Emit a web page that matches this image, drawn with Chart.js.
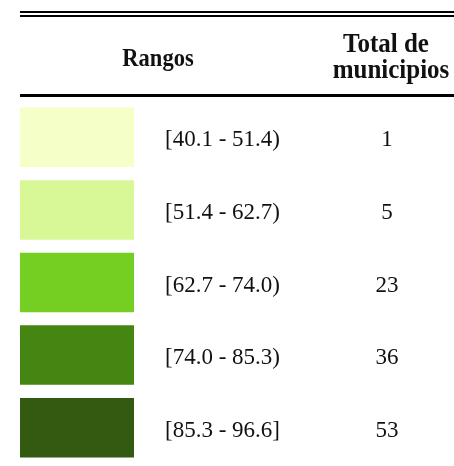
<!DOCTYPE html>
<html>
<head>
<meta charset="utf-8">
<script src="https://cdn.jsdelivr.net/npm/chart.js@4"></script>
<style>
html,body{margin:0;padding:0;background:#fff;}
#wrap{width:454px;height:466px;}
</style>
</head>
<body>
<div id="wrap"><canvas id="c" width="454" height="466"></canvas></div>
<script>
const rangos = ["[40.1 - 51.4)", "[51.4 - 62.7)", "[62.7 - 74.0)", "[74.0 - 85.3)", "[85.3 - 96.6]"];
const totalMunicipios = [1, 5, 23, 36, 53];
const swatchValue = [1, 1, 1, 1, 1];
const colores = ["#F5FFC8", "#D8F796", "#74CF22", "#448611", "#325A10"];
const headerRangos = "Rangos";
const headerTotal = ["Total de", "municipios"];

const FONT = '"Liberation Serif", "Times New Roman", serif';

function stretchedText(ctx, txt, x, y, sy) {
  ctx.save();
  ctx.translate(x, y);
  ctx.scale(1, sy);
  ctx.fillText(txt, 0, 0);
  ctx.restore();
}

const tablePlugin = {
  id: 'tablePlugin',
  afterDraw(chart) {
    const ctx = chart.ctx;
    const y = chart.scales.y;
    ctx.save();
    ctx.fillStyle = '#000';
    // top double rule
    ctx.fillRect(20, 11, 434, 2);
    ctx.fillRect(20, 15, 434, 2);
    // header bottom rule
    ctx.fillRect(20, 94, 434, 3);
    // header text
    ctx.fillStyle = '#111';
    ctx.textAlign = 'center';
    ctx.textBaseline = 'alphabetic';
    ctx.font = 'bold 22.5px ' + FONT;
    stretchedText(ctx, headerRangos, 158, 66, 1.12);
    ctx.font = 'bold 25px ' + FONT;
    stretchedText(ctx, headerTotal[0], 386, 52, 1.08);
    stretchedText(ctx, headerTotal[1], 391, 78, 1.08);
    // rows
    ctx.font = '23px ' + FONT;
    ctx.textBaseline = 'middle';
    rangos.forEach((r, i) => {
      const py = y.getPixelForValue(i);
      ctx.textAlign = 'left';
      ctx.fillText(r, 165, py + 3);
      ctx.textAlign = 'center';
      ctx.fillText(String(totalMunicipios[i]), 387, py + 3);
    });
    ctx.restore();
  }
};

new Chart(document.getElementById('c'), {
  type: 'bar',
  data: {
    labels: rangos,
    datasets: [{
      data: swatchValue,
      backgroundColor: colores,
      borderWidth: 0,
      barPercentage: 0.82,
      categoryPercentage: 1.0
    }]
  },
  options: {
    indexAxis: 'y',
    responsive: false,
    animation: false,
    devicePixelRatio: 1,
    layout: { padding: { left: 20, right: 320, top: 101, bottom: 2 } },
    plugins: { legend: { display: false }, tooltip: { enabled: false } },
    scales: {
      x: { display: false, min: 0, max: 1 },
      y: { display: false }
    }
  },
  plugins: [tablePlugin]
});
</script>
</body>
</html>
